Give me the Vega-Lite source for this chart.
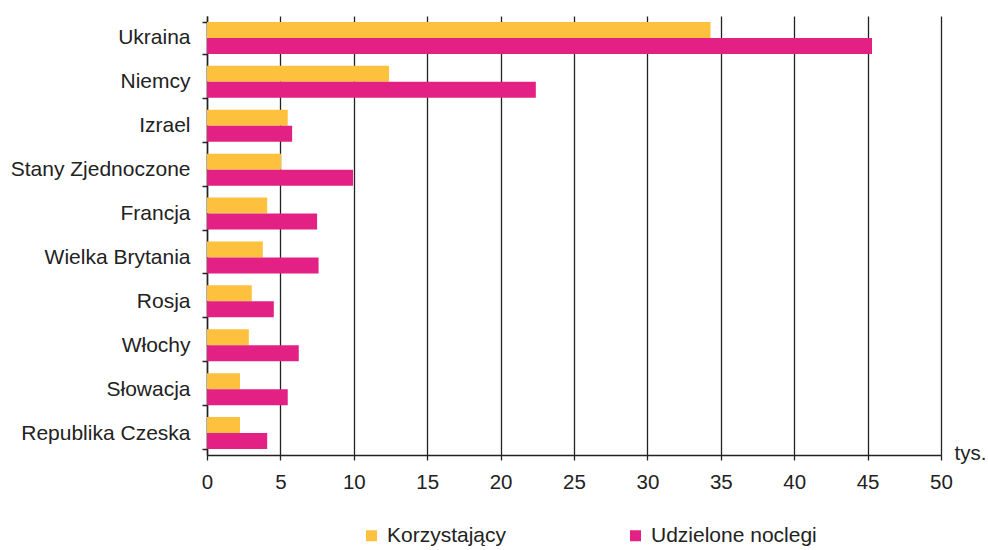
{
  "$schema": "https://vega.github.io/schema/vega-lite/v6.json",
  "width": 734,
  "height": 439,
  "autosize": {"type": "none"},
  "padding": {"left": 207, "top": 16, "right": 47, "bottom": 95},
  "background": "white",
  "config": {
    "font": "Liberation Sans",
    "view": {"stroke": null},
    "axis": {"labelFont": "Liberation Sans", "titleFont": "Liberation Sans"},
    "legend": {"labelFont": "Liberation Sans"}
  },
  "data": {
    "values": [
      {"kraj": "Ukraina", "seria": "Korzystający", "wartosc": 34.3},
      {"kraj": "Ukraina", "seria": "Udzielone noclegi", "wartosc": 45.3},
      {"kraj": "Niemcy", "seria": "Korzystający", "wartosc": 12.4},
      {"kraj": "Niemcy", "seria": "Udzielone noclegi", "wartosc": 22.4},
      {"kraj": "Izrael", "seria": "Korzystający", "wartosc": 5.5},
      {"kraj": "Izrael", "seria": "Udzielone noclegi", "wartosc": 5.8},
      {"kraj": "Stany Zjednoczone", "seria": "Korzystający", "wartosc": 5.05},
      {"kraj": "Stany Zjednoczone", "seria": "Udzielone noclegi", "wartosc": 9.95},
      {"kraj": "Francja", "seria": "Korzystający", "wartosc": 4.1},
      {"kraj": "Francja", "seria": "Udzielone noclegi", "wartosc": 7.5},
      {"kraj": "Wielka Brytania", "seria": "Korzystający", "wartosc": 3.8},
      {"kraj": "Wielka Brytania", "seria": "Udzielone noclegi", "wartosc": 7.6},
      {"kraj": "Rosja", "seria": "Korzystający", "wartosc": 3.05},
      {"kraj": "Rosja", "seria": "Udzielone noclegi", "wartosc": 4.55},
      {"kraj": "Włochy", "seria": "Korzystający", "wartosc": 2.85},
      {"kraj": "Włochy", "seria": "Udzielone noclegi", "wartosc": 6.25},
      {"kraj": "Słowacja", "seria": "Korzystający", "wartosc": 2.25},
      {"kraj": "Słowacja", "seria": "Udzielone noclegi", "wartosc": 5.5},
      {"kraj": "Republika Czeska", "seria": "Korzystający", "wartosc": 2.25},
      {"kraj": "Republika Czeska", "seria": "Udzielone noclegi", "wartosc": 4.1}
    ]
  },
  "mark": {"type": "bar"},
  "encoding": {
    "y": {
      "field": "kraj",
      "type": "nominal",
      "sort": null,
      "scale": {"paddingInner": 0.27, "paddingOuter": 0.135},
      "axis": {
        "title": null,
        "tickBand": "extent",
        "domainColor": "#222222",
        "tickColor": "#222222",
        "tickSize": 5,
        "tickWidth": 1.5,
        "domainWidth": 1.5,
        "labelFontSize": 21,
        "labelColor": "#222222",
        "labelPadding": 12,
        "labelLimit": 220
      }
    },
    "yOffset": {"field": "seria", "type": "nominal", "sort": ["Korzystający", "Udzielone noclegi"]},
    "x": {
      "field": "wartosc",
      "type": "quantitative",
      "scale": {"domain": [0, 50], "nice": false},
      "axis": {
        "values": [0, 5, 10, 15, 20, 25, 30, 35, 40, 45, 50],
        "grid": true,
        "gridColor": "#222222",
        "gridWidth": 1.3,
        "gridOpacity": 1,
        "domainColor": "#222222",
        "domainWidth": 1.5,
        "tickColor": "#222222",
        "tickSize": 5,
        "tickWidth": 1.3,
        "labelFontSize": 20.5,
        "labelColor": "#222222",
        "labelPadding": 12,
        "labelFlush": false,
        "title": "tys.",
        "titleFontSize": 20.5,
        "titleFontWeight": "normal",
        "titleColor": "#222222",
        "titleX": 747,
        "titleY": -2,
        "titleAlign": "left",
        "titleBaseline": "middle",
        "titleAnchor": null
      }
    },
    "color": {
      "field": "seria",
      "type": "nominal",
      "sort": ["Korzystający", "Udzielone noclegi"],
      "scale": {"domain": ["Korzystający", "Udzielone noclegi"], "range": ["#FDC13D", "#E32084"]},
      "legend": {
        "title": null,
        "orient": "none",
        "direction": "horizontal",
        "columns": 2,
        "legendX": 154,
        "legendY": 509,
        "symbolType": "square",
        "symbolSize": 121,
        "symbolStrokeWidth": 0,
        "labelFontSize": 21,
        "labelColor": "#222222",
        "labelOffset": 5,
        "columnPadding": 118,
        "labelLimit": 300
      }
    }
  }
}
